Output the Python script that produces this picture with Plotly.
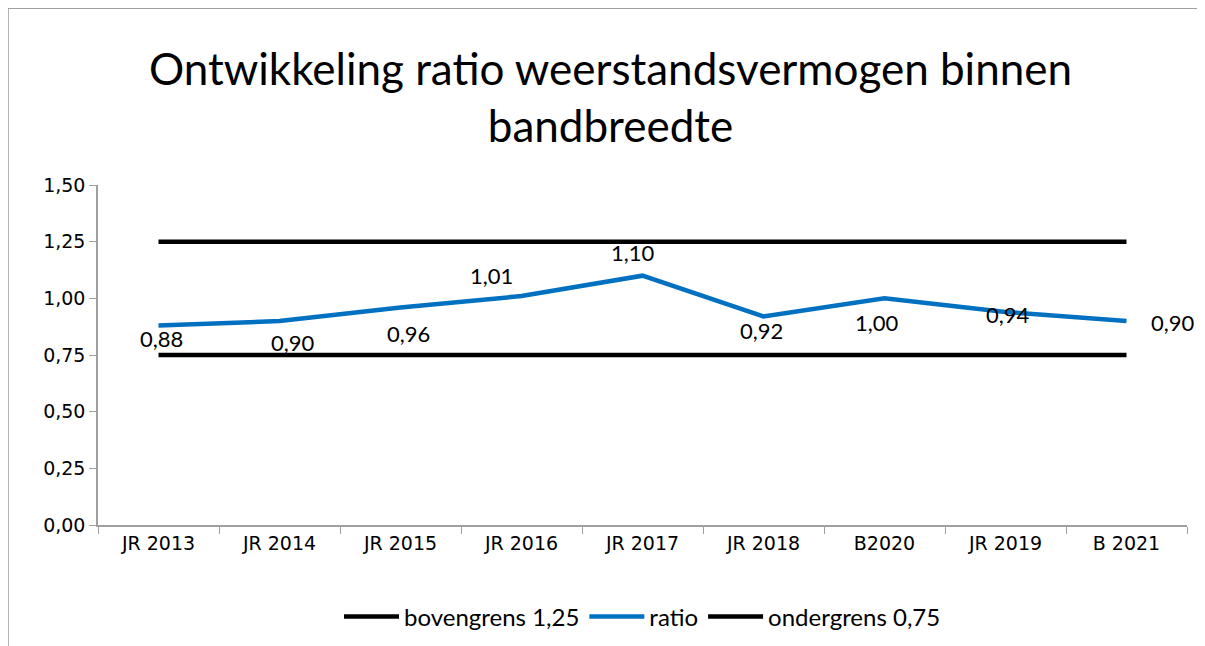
import plotly.graph_objects as go

categories = ['JR 2013', 'JR 2014', 'JR 2015', 'JR 2016', 'JR 2017', 'JR 2018', 'B2020', 'JR 2019', 'B 2021']
ratio = [0.88, 0.90, 0.96, 1.01, 1.10, 0.92, 1.00, 0.94, 0.90]
bovengrens = [1.25] * len(categories)
ondergrens = [0.75] * len(categories)

# label offsets in px (x, y), as in the original sheet
label_dx = [3, 13, 8, -30, -10, -2, -8, 2, 22]
label_dy = [-13, -21, -26, 21, 23, -14, -24, -3, -1]

fig = go.Figure()

fig.add_trace(go.Scatter(
    x=categories, y=bovengrens, mode='lines', name='bovengrens 1,25',
    line=dict(color='black', width=4.5)
))
fig.add_trace(go.Scatter(
    x=categories, y=ratio, mode='lines', name='ratio',
    line=dict(color='#0070C0', width=4.5)
))
fig.add_trace(go.Scatter(
    x=categories, y=ondergrens, mode='lines', name='ondergrens 0,75',
    line=dict(color='black', width=4.5)
))

for i, (cat, v) in enumerate(zip(categories, ratio)):
    last = i == len(categories) - 1
    fig.add_annotation(
        x=cat, y=v, text=f'{v:.2f}'.replace('.', ','), showarrow=False,
        xanchor='left' if last else 'center', yanchor='middle',
        xshift=label_dx[i], yshift=label_dy[i],
        font=dict(family='Lato', size=22, color='black')
    )

fig.update_layout(
    width=1205, height=646,
    separators=', ',
    paper_bgcolor='white', plot_bgcolor='white',
    margin=dict(l=90, r=26, t=177, b=129),
    title=dict(
        text='Ontwikkeling ratio weerstandsvermogen binnen<br>bandbreedte',
        x=0.5, xanchor='center', y=0.881, yanchor='middle',
        font=dict(family='Lato', size=44, color='black')
    ),
    showlegend=True,
    legend=dict(
        orientation='h', x=0.5, xanchor='center', y=-0.27, yanchor='middle',
        itemwidth=55,
        font=dict(family='Lato', size=24, color='black')
    ),
    shapes=[dict(
        type='rect', xref='paper', yref='paper',
        x0=-0.0826, x1=1.012, y0=-0.5, y1=1.52,
        line=dict(color='#a0a0a0', width=1.5)
    )]
)

fig.update_xaxes(
    type='category', range=[-0.5, len(categories) - 0.5], autorange=False,
    showline=True, linecolor='#a0a0a0', linewidth=1.5,
    ticks='outside', tickson='boundaries', ticklen=7, tickcolor='#a0a0a0',
    showgrid=False, tickfont=dict(family='DejaVu Sans', size=19, color='black')
)
fig.update_yaxes(
    range=[0, 1.5], dtick=0.25, tickformat='.2f',
    showline=True, linecolor='#a0a0a0', linewidth=1.5,
    ticks='outside', ticklen=7, tickcolor='#a0a0a0',
    showgrid=False, zeroline=False,
    tickfont=dict(family='DejaVu Sans', size=19, color='black')
)

fig.write_html('out.html')
